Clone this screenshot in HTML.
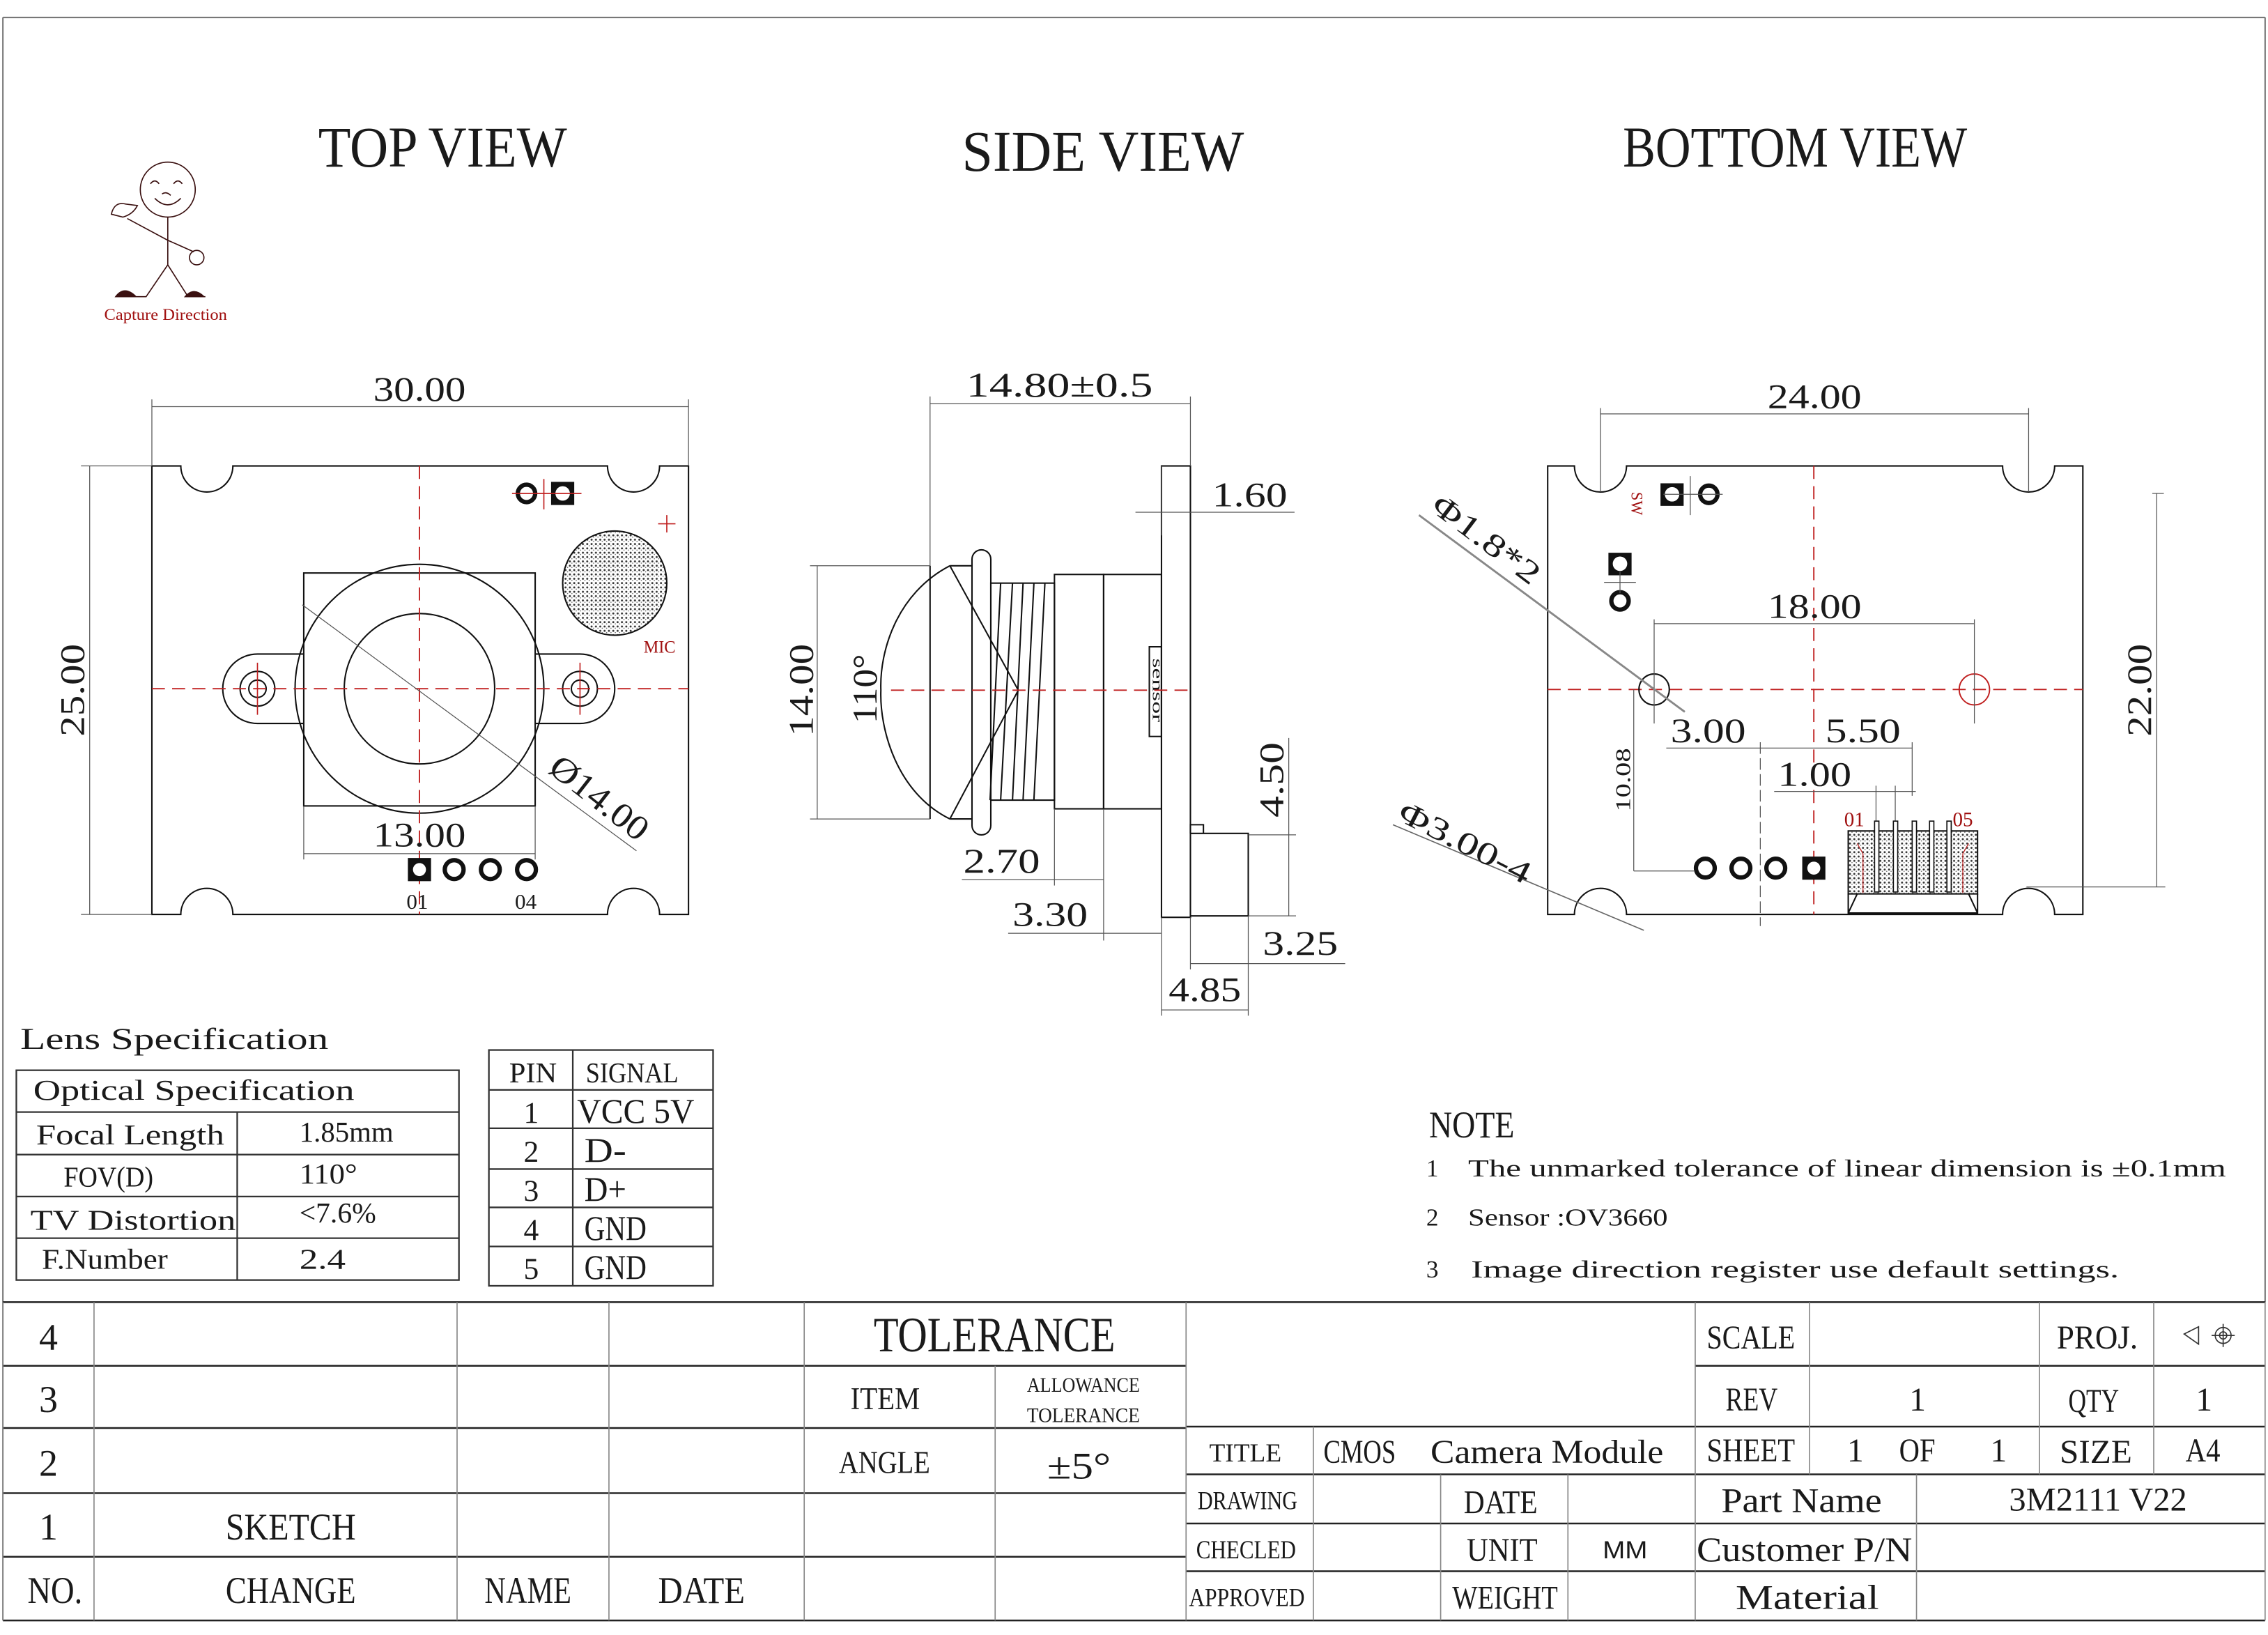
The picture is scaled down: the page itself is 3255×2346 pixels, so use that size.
<!DOCTYPE html>
<html><head><meta charset="utf-8"><style>
html,body{margin:0;padding:0;background:#fff}
svg{display:block}
text{font-family:"Liberation Serif",serif;fill:#1a1a1a}
.r{fill:#a01010}
.o{fill:none;stroke:#111;stroke-width:1}
.d{fill:none;stroke:#555;stroke-width:0.6}
.c{fill:none;stroke:#c02020;stroke-width:0.9;stroke-dasharray:9 5}
.cs{fill:none;stroke:#c02020;stroke-width:0.8}
</style></head><body>
<svg width="3255" height="2346" viewBox="0 0 1568 1130" xmlns="http://www.w3.org/2000/svg">
<defs>
<pattern id="st" width="3" height="3" patternUnits="userSpaceOnUse"><rect width="3" height="3" fill="#fff"/><circle cx="1" cy="1" r="0.7" fill="#333"/><circle cx="2.4" cy="2.2" r="0.4" fill="#666"/></pattern>
</defs>
<rect x="0" y="0" width="1568" height="1130" fill="#fff"/>
<line x1="2" y1="12" x2="1566" y2="12" stroke="#777" stroke-width="1"/>
<line x1="2" y1="12" x2="2" y2="1120" stroke="#777" stroke-width="1"/>
<line x1="1566" y1="12" x2="1566" y2="900" stroke="#777" stroke-width="1"/>

<text x="220" y="115" font-size="40" textLength="172" lengthAdjust="spacingAndGlyphs">TOP VIEW</text>
<text x="665" y="118" font-size="40" textLength="195" lengthAdjust="spacingAndGlyphs">SIDE VIEW</text>
<text x="1122" y="115" font-size="40" textLength="238" lengthAdjust="spacingAndGlyphs">BOTTOM VIEW</text>

<g stroke="#3a1010" stroke-width="0.8" fill="none">
<circle cx="116" cy="131" r="19"/>
<path d="M104 127 q3 -4 6 0 M120 127 q3 -4 6 0 M107 137 q9 9 18 0 M112 134 q3 -2 6 1"/>
<line x1="116" y1="150" x2="116" y2="183"/>
<path d="M116 166 L88 151 M116 166 L134 174"/>
<circle cx="136" cy="178" r="5"/>
<path d="M77 148 q2 -9 10 -7 l8 1 q-3 6 -10 8 z"/>
<path d="M116 183 L101 205 L88 205 M116 183 L130 205 L142 205"/>
<path d="M80 205 q6 -8 14 0 z M128 205 q6 -7 13 0 z" fill="#3a1010"/>
</g>
<text class="r" x="72" y="221" font-size="11" textLength="85" lengthAdjust="spacingAndGlyphs">Capture Direction</text>

<!-- TOP VIEW -->
<g>
<path class="o" d="M105 322 H125 A18 18 0 0 0 161 322 H420 A18 18 0 0 0 456 322 H476 V632 H456 A18 18 0 0 0 420 632 H161 A18 18 0 0 0 125 632 H105 Z"/>
<line class="d" x1="105" y1="322" x2="105" y2="276"/>
<line class="d" x1="476" y1="322" x2="476" y2="276"/>
<line class="d" x1="105" y1="281" x2="476" y2="281"/>
<text x="258" y="277" font-size="24" textLength="64" lengthAdjust="spacingAndGlyphs">30.00</text>
<line class="d" x1="105" y1="322" x2="56" y2="322"/>
<line class="d" x1="105" y1="632" x2="56" y2="632"/>
<line class="d" x1="62" y1="322" x2="62" y2="632"/>
<text transform="translate(58,509) rotate(-90)" font-size="24" textLength="64" lengthAdjust="spacingAndGlyphs">25.00</text>
<rect class="o" x="210" y="396" width="160" height="161"/>
<path class="o" d="M210 452 H178 A24 24 0 0 0 178 500 H210 M370 452 H401 A24 24 0 0 1 401 500 H370"/>
<circle class="o" cx="178" cy="476" r="12"/><circle class="o" cx="178" cy="476" r="6"/>
<circle class="o" cx="401" cy="476" r="12"/><circle class="o" cx="401" cy="476" r="6"/>
<path class="cs" d="M178 458 V494 M401 458 V494"/>
<circle class="o" cx="290" cy="476" r="86"/>
<circle class="o" cx="290" cy="476" r="52"/>
<line class="c" x1="105" y1="476" x2="476" y2="476"/>
<line class="c" x1="290" y1="322" x2="290" y2="632"/>
<line class="d" x1="209" y1="418" x2="440" y2="588"/>
<text transform="translate(378,533) rotate(38)" font-size="24" textLength="80" lengthAdjust="spacingAndGlyphs">Ø14.00</text>
<line class="d" x1="210" y1="557" x2="210" y2="594"/>
<line class="d" x1="370" y1="557" x2="370" y2="594"/>
<line class="d" x1="210" y1="590" x2="370" y2="590"/>
<text x="258" y="585" font-size="24" textLength="64" lengthAdjust="spacingAndGlyphs">13.00</text>
<circle cx="425" cy="403" r="36" fill="url(#st)" stroke="#111" stroke-width="1"/>
<text class="r" x="445" y="451" font-size="12" textLength="22" lengthAdjust="spacingAndGlyphs">MIC</text>
<path class="cs" d="M455 362 H467 M461 356 V368"/>
<circle cx="364" cy="341" r="6" fill="none" stroke="#111" stroke-width="3"/>
<rect x="381" y="333" width="16" height="16" fill="#111"/><circle cx="389" cy="341" r="5" fill="#fff"/>
<path class="cs" d="M354 341 H402 M376 331 V352"/>
<rect x="282" y="593" width="16" height="16" fill="#111"/><circle cx="290" cy="601" r="4.5" fill="#fff"/>
<circle cx="314" cy="601" r="6.5" fill="none" stroke="#111" stroke-width="3"/>
<circle cx="339" cy="601" r="6.5" fill="none" stroke="#111" stroke-width="3"/>
<circle cx="364" cy="601" r="6.5" fill="none" stroke="#111" stroke-width="3"/>
<text x="281" y="628" font-size="15">01</text>
<text x="356" y="628" font-size="15">04</text>
</g>

<!-- SIDE VIEW -->
<g>
<rect class="o" x="803" y="322" width="20" height="312"/>
<path class="o" d="M823 576 H863 V633 H823 M823 576 V570 H832 V576"/>
<rect class="o" x="729" y="397" width="34" height="162"/>
<rect class="o" x="763" y="397" width="40" height="162"/>
<rect class="o" x="794.6" y="447" width="8.4" height="62"/>
<text transform="translate(797,455) rotate(90)" font-size="10" textLength="44" lengthAdjust="spacingAndGlyphs">sensor</text>
<rect class="o" x="685" y="403" width="44" height="150"/>
<path class="o" d="M691.8 403 L684.5 553 M700 403 L691.8 553 M707.3 403 L700 553 M714.8 403 L707.3 553 M722.4 403 L714.8 553"/>
<rect class="o" x="672" y="380" width="13" height="197" rx="6.5"/>
<path class="o" d="M643 391 V566 M656.7 391 H672 M656.7 566 H672"/>
<path class="o" d="M656.7 391 C 620 410, 608 450, 609 477 C 608 504, 620 548, 656.7 566"/>
<path class="o" d="M656.7 391 L704 477 L656.7 566" stroke-width="0.7"/>
<line class="c" x1="616" y1="477" x2="823" y2="477"/>
<line class="d" x1="643" y1="391" x2="643" y2="274"/>
<line class="d" x1="823" y1="322" x2="823" y2="274"/>
<line class="d" x1="643" y1="279" x2="823" y2="279"/>
<text x="668" y="274" font-size="24" textLength="129" lengthAdjust="spacingAndGlyphs">14.80±0.5</text>
<line class="d" x1="803" y1="322" x2="803" y2="370"/>
<line class="d" x1="785" y1="354" x2="895" y2="354"/>
<text x="838" y="350" font-size="24" textLength="52" lengthAdjust="spacingAndGlyphs">1.60</text>
<line class="d" x1="560" y1="391" x2="643" y2="391"/>
<line class="d" x1="560" y1="566" x2="643" y2="566"/>
<line class="d" x1="565" y1="391" x2="565" y2="566"/>
<text transform="translate(562,509) rotate(-90)" font-size="24" textLength="64" lengthAdjust="spacingAndGlyphs">14.00</text>
<text transform="translate(606,500) rotate(-90)" font-size="24" textLength="48" lengthAdjust="spacingAndGlyphs">110°</text>
<line class="d" x1="729" y1="559" x2="729" y2="612"/>
<line class="d" x1="763" y1="559" x2="763" y2="650"/>
<line class="d" x1="665" y1="608" x2="763" y2="608"/>
<text x="666" y="603" font-size="24" textLength="53" lengthAdjust="spacingAndGlyphs">2.70</text>
<line class="d" x1="697" y1="645" x2="803" y2="645"/>
<text x="700" y="640" font-size="24" textLength="52" lengthAdjust="spacingAndGlyphs">3.30</text>
<line class="d" x1="803" y1="634" x2="803" y2="702"/>
<line class="d" x1="863" y1="633" x2="863" y2="702"/>
<line class="d" x1="823" y1="634" x2="823" y2="670"/>
<line class="d" x1="823" y1="666" x2="930" y2="666"/>
<text x="873" y="660" font-size="24" textLength="52" lengthAdjust="spacingAndGlyphs">3.25</text>
<line class="d" x1="803" y1="698" x2="863" y2="698"/>
<text x="808" y="692" font-size="24" textLength="50" lengthAdjust="spacingAndGlyphs">4.85</text>
<line class="d" x1="863" y1="577" x2="896" y2="577"/>
<line class="d" x1="863" y1="633" x2="896" y2="633"/>
<line class="d" x1="891" y1="510" x2="891" y2="633"/>
<text transform="translate(887,565) rotate(-90)" font-size="24" textLength="52" lengthAdjust="spacingAndGlyphs">4.50</text>
</g>

<!-- BOTTOM VIEW -->
<g>
<path class="o" d="M1070 322 H1088.5 A18 18 0 0 0 1124.5 322 H1384.5 A18 18 0 0 0 1420.5 322 H1440 V632 H1420.5 A18 18 0 0 0 1384.5 632 H1124.5 A18 18 0 0 0 1088.5 632 H1070 Z"/>
<line class="c" x1="1254" y1="322" x2="1254" y2="632"/>
<line class="c" x1="1070" y1="476.5" x2="1440" y2="476.5"/>
<line class="d" x1="1106.5" y1="340" x2="1106.5" y2="282"/>
<line class="d" x1="1402.5" y1="340" x2="1402.5" y2="282"/>
<line class="d" x1="1106.5" y1="286" x2="1402.5" y2="286"/>
<text x="1222" y="282" font-size="24" textLength="65" lengthAdjust="spacingAndGlyphs">24.00</text>
<ellipse class="o" cx="1143.6" cy="476.5" rx="10.5" ry="10.7"/>
<ellipse cx="1365" cy="476.5" rx="10.5" ry="10.7" fill="none" stroke="#c02020" stroke-width="0.9"/>
<path class="d" d="M1143.6 428 V500 M1365 428 V500"/>
<line class="d" x1="1143.6" y1="431" x2="1365" y2="431"/>
<text x="1222" y="427" font-size="24" textLength="65" lengthAdjust="spacingAndGlyphs">18.00</text>
<rect x="1148" y="334" width="16" height="15.6" fill="#111"/><circle cx="1156" cy="341.6" r="5" fill="#fff"/>
<circle cx="1181.4" cy="341.6" r="6" fill="none" stroke="#111" stroke-width="3"/>
<path class="d" d="M1150 341.6 H1191 M1168.6 329 V356"/>
<text class="r" transform="translate(1128,340) rotate(90)" font-size="11" textLength="16" lengthAdjust="spacingAndGlyphs">SW</text>
<rect x="1112" y="382" width="16" height="15.6" fill="#111"/><circle cx="1120" cy="389.6" r="5" fill="#fff"/>
<circle cx="1120" cy="415.3" r="6" fill="none" stroke="#111" stroke-width="3"/>
<path class="d" d="M1109 402.5 H1131 M1120 395 V410"/>
<circle cx="1179" cy="600" r="6.5" fill="none" stroke="#111" stroke-width="3"/>
<circle cx="1203.6" cy="600" r="6.5" fill="none" stroke="#111" stroke-width="3"/>
<circle cx="1227.7" cy="600" r="6.5" fill="none" stroke="#111" stroke-width="3"/>
<rect x="1246" y="592" width="16" height="16" fill="#111"/><circle cx="1254" cy="600" r="4.5" fill="#fff"/>
<line class="d" x1="1152" y1="517" x2="1322" y2="517"/>
<text x="1155" y="513" font-size="24" textLength="52" lengthAdjust="spacingAndGlyphs">3.00</text>
<text x="1262" y="513" font-size="24" textLength="52" lengthAdjust="spacingAndGlyphs">5.50</text>
<line class="d" x1="1217" y1="513" x2="1217" y2="640" stroke-dasharray="8 3"/>
<line class="d" x1="1322" y1="513" x2="1322" y2="550"/>
<line class="d" x1="1226.6" y1="547" x2="1324.5" y2="547"/>
<text x="1229" y="543" font-size="24" textLength="51" lengthAdjust="spacingAndGlyphs">1.00</text>
<path class="d" d="M1297 543 V570 M1310.3 543 V570"/>
<line class="d" x1="1129.5" y1="476.5" x2="1129.5" y2="602"/>
<line class="d" x1="1129.5" y1="602" x2="1172" y2="602"/>
<text transform="translate(1127,561) rotate(-90)" font-size="15" textLength="44" lengthAdjust="spacingAndGlyphs">10.08</text>
<rect x="1277.8" y="574.3" width="89.4" height="43.5" fill="url(#st)" stroke="#111" stroke-width="1"/>
<path class="o" d="M1277.8 617.8 V631 H1367.2 V617.8 M1277.8 631 L1284 617.8 M1367.2 631 L1361 617.8"/>
<path d="M1284 583 L1288 590 V617 M1361 583 L1357 590 V617" fill="none" stroke="#c02020" stroke-width="0.6"/>
<g fill="#fff" stroke="#111" stroke-width="0.8">
<rect x="1296" y="567.5" width="3" height="49"/><rect x="1309" y="567.5" width="3" height="49"/><rect x="1322" y="567.5" width="3" height="49"/><rect x="1334" y="567.5" width="3" height="49"/><rect x="1346" y="567.5" width="3" height="49"/>
</g>
<text class="r" x="1275" y="571" font-size="14">01</text>
<text class="r" x="1350" y="571" font-size="14">05</text>
<line class="d" x1="1491" y1="341" x2="1491" y2="613"/>
<line class="d" x1="1488" y1="341" x2="1496" y2="341"/>
<line class="d" x1="1401" y1="613" x2="1497" y2="613"/>
<text transform="translate(1487,509) rotate(-90)" font-size="24" textLength="64" lengthAdjust="spacingAndGlyphs">22.00</text>
<line x1="981" y1="356" x2="1164.8" y2="492" stroke="#888" stroke-width="1.4"/>
<text transform="translate(988,352) rotate(37)" font-size="22" textLength="88" lengthAdjust="spacingAndGlyphs">Φ1.8*2</text>
<line x1="963" y1="570" x2="1136.5" y2="643" stroke="#666" stroke-width="0.8"/>
<text transform="translate(965,566) rotate(27)" font-size="22" textLength="100" lengthAdjust="spacingAndGlyphs">Φ3.00-4</text>
</g>

<!-- LENS SPEC -->
<text x="14" y="725" font-size="21" textLength="213" lengthAdjust="spacingAndGlyphs">Lens Specification</text>
<g stroke="#333" stroke-width="1.1">
<rect x="11.3" y="739.7" width="306" height="145" fill="none"/>
<line x1="11.3" y1="768.6" x2="317.3" y2="768.6"/>
<line x1="11.3" y1="798" x2="317.3" y2="798"/>
<line x1="11.3" y1="827" x2="317.3" y2="827"/>
<line x1="11.3" y1="855.8" x2="317.3" y2="855.8"/>
<line x1="164" y1="768.6" x2="164" y2="884.7"/>
</g>
<text x="23" y="760" font-size="20" textLength="222" lengthAdjust="spacingAndGlyphs">Optical Specification</text>
<text x="25" y="791" font-size="20" textLength="130" lengthAdjust="spacingAndGlyphs">Focal Length</text>
<text x="207" y="789" font-size="20" textLength="65" lengthAdjust="spacingAndGlyphs">1.85mm</text>
<text x="44" y="820" font-size="20" textLength="62" lengthAdjust="spacingAndGlyphs">FOV(D)</text>
<text x="207" y="818" font-size="20" textLength="40" lengthAdjust="spacingAndGlyphs">110°</text>
<text x="21" y="850" font-size="20" textLength="142" lengthAdjust="spacingAndGlyphs">TV Distortion</text>
<text x="207" y="845" font-size="20" textLength="53" lengthAdjust="spacingAndGlyphs">&lt;7.6%</text>
<text x="29" y="877" font-size="20" textLength="87" lengthAdjust="spacingAndGlyphs">F.Number</text>
<text x="207" y="877" font-size="20" textLength="32" lengthAdjust="spacingAndGlyphs">2.4</text>

<g stroke="#333" stroke-width="1.1">
<rect x="338" y="725.7" width="155" height="163" fill="none"/>
<line x1="338" y1="753.3" x2="493" y2="753.3"/>
<line x1="338" y1="779.8" x2="493" y2="779.8"/>
<line x1="338" y1="808" x2="493" y2="808"/>
<line x1="338" y1="834.5" x2="493" y2="834.5"/>
<line x1="338" y1="861.5" x2="493" y2="861.5"/>
<line x1="396" y1="725.7" x2="396" y2="888.7"/>
</g>
<text x="352" y="748" font-size="20" textLength="33" lengthAdjust="spacingAndGlyphs">PIN</text>
<text x="405" y="748" font-size="20" textLength="64" lengthAdjust="spacingAndGlyphs">SIGNAL</text>
<text x="362" y="776" font-size="21">1</text><text x="399" y="776" font-size="24" textLength="81" lengthAdjust="spacingAndGlyphs">VCC 5V</text>
<text x="362" y="803" font-size="21">2</text><text x="404" y="803" font-size="24" textLength="29" lengthAdjust="spacingAndGlyphs">D-</text>
<text x="362" y="830" font-size="21">3</text><text x="404" y="830" font-size="24" textLength="29" lengthAdjust="spacingAndGlyphs">D+</text>
<text x="362" y="857" font-size="21">4</text><text x="404" y="857" font-size="24" textLength="43" lengthAdjust="spacingAndGlyphs">GND</text>
<text x="362" y="884" font-size="21">5</text><text x="404" y="884" font-size="24" textLength="43" lengthAdjust="spacingAndGlyphs">GND</text>

<!-- NOTES -->
<text x="988" y="786" font-size="26" textLength="59" lengthAdjust="spacingAndGlyphs">NOTE</text>
<text x="986" y="813" font-size="17">1</text>
<text x="1015" y="813" font-size="17" textLength="524" lengthAdjust="spacingAndGlyphs">The unmarked tolerance of linear dimension is ±0.1mm</text>
<text x="986" y="847" font-size="17">2</text>
<text x="1015" y="847" font-size="17" textLength="138" lengthAdjust="spacingAndGlyphs">Sensor :OV3660</text>
<text x="986" y="883" font-size="17">3</text>
<text x="1017" y="883" font-size="17" textLength="448" lengthAdjust="spacingAndGlyphs">Image direction register use default settings.</text>

<!-- TITLE BLOCK -->
<g stroke="#222" stroke-width="1.2" fill="none">
<line x1="2" y1="900" x2="1566" y2="900"/>
<line x1="2" y1="1120" x2="1566" y2="1120"/>
<line x1="2" y1="944" x2="820" y2="944"/>
<line x1="2" y1="987" x2="820" y2="987"/>
<line x1="2" y1="1032" x2="820" y2="1032"/>
<line x1="2" y1="1076" x2="820" y2="1076"/>
<line x1="1172" y1="944" x2="1566" y2="944"/>
<line x1="820" y1="986" x2="1566" y2="986"/>
<line x1="820" y1="1019" x2="1566" y2="1019"/>
<line x1="820" y1="1053" x2="1566" y2="1053"/>
<line x1="820" y1="1086" x2="1566" y2="1086"/>
</g>
<g stroke="#888" stroke-width="0.8">
<line x1="2" y1="900" x2="2" y2="1120"/>
<line x1="65" y1="900" x2="65" y2="1120"/>
<line x1="316" y1="900" x2="316" y2="1120"/>
<line x1="421" y1="900" x2="421" y2="1120"/>
<line x1="556" y1="900" x2="556" y2="1120"/>
<line x1="688" y1="944" x2="688" y2="1120"/>
<line x1="820" y1="900" x2="820" y2="1120"/>
<line x1="908" y1="986" x2="908" y2="1120"/>
<line x1="996" y1="1019" x2="996" y2="1120"/>
<line x1="1084" y1="1019" x2="1084" y2="1120"/>
<line x1="1172" y1="900" x2="1172" y2="1120"/>
<line x1="1251" y1="900" x2="1251" y2="1019"/>
<line x1="1325" y1="1019" x2="1325" y2="1120"/>
<line x1="1410" y1="900" x2="1410" y2="1019"/>
<line x1="1489" y1="900" x2="1489" y2="1019"/>
<line x1="1566" y1="900" x2="1566" y2="1120"/>
</g>
<text x="27" y="933" font-size="26">4</text>
<text x="27" y="976" font-size="26">3</text>
<text x="27" y="1020" font-size="26">2</text>
<text x="27" y="1064" font-size="26">1</text>
<text x="19" y="1108" font-size="26" textLength="38" lengthAdjust="spacingAndGlyphs">NO.</text>
<text x="156" y="1064" font-size="26" textLength="90" lengthAdjust="spacingAndGlyphs">SKETCH</text>
<text x="156" y="1108" font-size="26" textLength="90" lengthAdjust="spacingAndGlyphs">CHANGE</text>
<text x="335" y="1108" font-size="26" textLength="60" lengthAdjust="spacingAndGlyphs">NAME</text>
<text x="455" y="1108" font-size="26" textLength="60" lengthAdjust="spacingAndGlyphs">DATE</text>
<text x="604" y="934" font-size="34" textLength="167" lengthAdjust="spacingAndGlyphs">TOLERANCE</text>
<text x="588" y="974" font-size="22" textLength="48" lengthAdjust="spacingAndGlyphs">ITEM</text>
<text x="710" y="962" font-size="14" textLength="78" lengthAdjust="spacingAndGlyphs">ALLOWANCE</text>
<text x="710" y="983" font-size="14" textLength="78" lengthAdjust="spacingAndGlyphs">TOLERANCE</text>
<text x="580" y="1018" font-size="22" textLength="63" lengthAdjust="spacingAndGlyphs">ANGLE</text>
<text x="724" y="1022" font-size="26" textLength="44" lengthAdjust="spacingAndGlyphs">±5°</text>
<text x="1180" y="932" font-size="23" textLength="61" lengthAdjust="spacingAndGlyphs">SCALE</text>
<text x="1422" y="932" font-size="23" textLength="56" lengthAdjust="spacingAndGlyphs">PROJ.</text>
<g stroke="#333" stroke-width="0.8" fill="none"><path d="M1510 922 L1520 917 V929 Z"/><circle cx="1537" cy="923" r="5.5"/><circle cx="1537" cy="923" r="2.5"/><path d="M1529 923 H1545 M1537 915 V931"/></g>
<text x="1193" y="975" font-size="23" textLength="36" lengthAdjust="spacingAndGlyphs">REV</text>
<text x="1320" y="975" font-size="23">1</text>
<text x="1430" y="976" font-size="23" textLength="35" lengthAdjust="spacingAndGlyphs">QTY</text>
<text x="1518" y="975" font-size="23">1</text>
<text x="836" y="1010" font-size="18" textLength="50" lengthAdjust="spacingAndGlyphs">TITLE</text>
<text x="915" y="1011" font-size="23" textLength="50" lengthAdjust="spacingAndGlyphs">CMOS</text>
<text x="989" y="1011" font-size="23" textLength="161" lengthAdjust="spacingAndGlyphs">Camera Module</text>
<text x="1180" y="1010" font-size="23" textLength="61" lengthAdjust="spacingAndGlyphs">SHEET</text>
<text x="1277" y="1010" font-size="23">1</text>
<text x="1313" y="1010" font-size="23" textLength="25" lengthAdjust="spacingAndGlyphs">OF</text>
<text x="1376" y="1010" font-size="23">1</text>
<text x="1424" y="1011" font-size="23" textLength="50" lengthAdjust="spacingAndGlyphs">SIZE</text>
<text x="1511" y="1010" font-size="23" textLength="24" lengthAdjust="spacingAndGlyphs">A4</text>
<text x="828" y="1043" font-size="18" textLength="69" lengthAdjust="spacingAndGlyphs">DRAWING</text>
<text x="1012" y="1046" font-size="23" textLength="51" lengthAdjust="spacingAndGlyphs">DATE</text>
<text x="1190" y="1045" font-size="24" textLength="111" lengthAdjust="spacingAndGlyphs">Part Name</text>
<text x="1389" y="1044" font-size="23" textLength="123" lengthAdjust="spacingAndGlyphs">3M2111 V22</text>
<text x="827" y="1077" font-size="18" textLength="69" lengthAdjust="spacingAndGlyphs">CHECLED</text>
<text x="1014" y="1079" font-size="23" textLength="49" lengthAdjust="spacingAndGlyphs">UNIT</text>
<text x="1108" y="1077" font-size="17" textLength="31" lengthAdjust="spacingAndGlyphs" style="font-family:'Liberation Sans',sans-serif">MM</text>
<text x="1173" y="1079" font-size="24" textLength="149" lengthAdjust="spacingAndGlyphs">Customer P/N</text>
<text x="822" y="1110" font-size="18" textLength="80" lengthAdjust="spacingAndGlyphs">APPROVED</text>
<text x="1004" y="1112" font-size="23" textLength="73" lengthAdjust="spacingAndGlyphs">WEIGHT</text>
<text x="1200" y="1112" font-size="24" textLength="99" lengthAdjust="spacingAndGlyphs">Material</text>
</svg>
</body></html>
